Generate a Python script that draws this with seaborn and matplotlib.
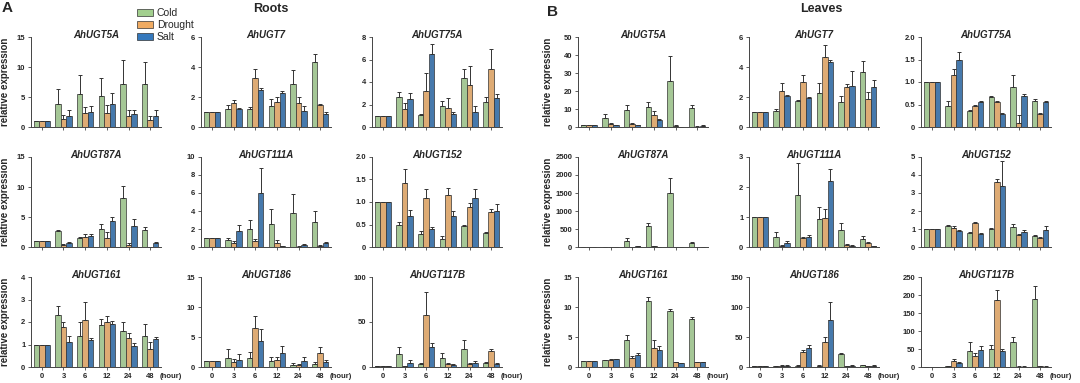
import numpy as np
import pandas as pd
import seaborn as sns
import matplotlib.pyplot as plt
from matplotlib.patches import Patch

times = ["0", "3", "6", "12", "24", "48"]
stresses = ["Cold", "Drought", "Salt"]
colors = ["#a2cf8e", "#f0ab62", "#3579bd"]

# ---- Roots (A) : rows are Cold / Drought / Salt, columns are the time points
r_5a = [[1, 3.8, 5.5, 5.1, 7.1, 7.1], [1, 1.3, 2.4, 2.4, 1.8, 1.1], [1, 1.8, 2.5, 3.9, 2.1, 1.9]]
r_5a_err = [[0, 2.5, 3.2, 3.0, 4.1, 3.7], [0, 0.7, 1.0, 1.3, 1.0, 0.7], [0, 1.0, 1.0, 1.7, 0.8, 0.9]]
r_7 = [[1, 1.2, 1.2, 1.4, 2.9, 4.35], [1, 1.6, 3.3, 1.7, 1.6, 1.5], [1, 1.2, 2.5, 2.3, 1.1, 0.9]]
r_7_err = [[0, 0.25, 0.15, 0.45, 0.9, 0.55], [0, 0.2, 0.6, 0.3, 0.4, 0.05], [0, 0.1, 0.1, 0.1, 0.3, 0.1]]
r_75a = [[1, 2.7, 1.05, 1.9, 4.35, 2.25], [1, 1.6, 3.2, 1.7, 3.7, 5.2], [1, 2.5, 6.5, 1.15, 1.3, 2.6]]
r_75a_err = [[0, 0.4, 0.15, 0.4, 0.8, 0.45], [0, 0.5, 1.6, 0.9, 1.7, 1.7], [0, 0.5, 0.9, 0.2, 0.6, 0.3]]
r_87a = [[1, 2.7, 1.5, 3.0, 8.2, 2.9], [1, 0.35, 1.6, 1.5, 0.3, 0.05], [1, 0.7, 1.8, 4.3, 3.5, 0.65]]
r_87a_err = [[0, 0.2, 0.1, 0.9, 2.0, 0.5], [0, 0.1, 0.6, 1.0, 0.3, 0], [0, 0.2, 0.4, 0.75, 1.2, 0.15]]
r_111a = [[1, 0.75, 2.0, 2.55, 3.75, 2.75], [1, 0.5, 0.7, 0.5, 0.02, 0.15], [1, 1.8, 6.0, 0.1, 0.25, 0.4]]
r_111a_err = [[0, 0.3, 1.0, 1.65, 2.15, 1.2], [0, 0.2, 0.2, 0.3, 0.1, 0.05], [0, 0.65, 2.8, 0, 0.1, 0.15]]
r_152 = [[1, 0.5, 0.28, 0.18, 0.47, 0.31], [1, 1.43, 1.08, 1.16, 0.9, 0.77], [1, 0.7, 0.4, 0.68, 1.08, 0.81]]
r_152_err = [[0, 0.05, 0.07, 0.07, 0.02, 0.03], [0, 0.3, 0.2, 0.15, 0.07, 0.07], [0, 0.13, 0.05, 0.13, 0.2, 0.15]]
r_161 = [[1, 2.3, 1.4, 1.85, 1.6, 1.4], [1, 1.8, 2.1, 2.0, 1.3, 0.8], [1, 1.1, 1.2, 1.9, 0.95, 1.25]]
r_161_err = [[0, 0.4, 0.6, 0.3, 0.4, 0.5], [0, 0.2, 0.8, 0.25, 0.2, 0.3], [0, 0.3, 0.1, 0.15, 0.1, 0.1]]
r_186 = [[1, 1.5, 1.5, 1.0, 0.4, 0.5], [1, 0.9, 6.5, 1.2, 0.3, 2.3], [1, 1.2, 4.3, 2.3, 1.0, 0.8]]
r_186_err = [[0, 1.5, 1.0, 0.7, 0.3, 0.3], [0, 0.5, 2.0, 0.5, 0.2, 1.0], [0, 1.0, 2.0, 1.2, 0.6, 0.4]]
r_117b = [[1, 15, 3, 10, 20, 4], [1, 1, 58, 3, 3, 18], [1, 5, 22, 2, 5, 3]]
r_117b_err = [[0, 7, 1, 6, 10, 2], [0, 0.5, 25, 1, 1, 2], [0, 3, 5, 1, 2, 1]]

# ---- Leaves (B)
l_5a = [[1, 5, 9.2, 11, 25.5, 10.5], [1, 1.5, 1.5, 6.5, 0.5, 0.2], [1, 1.0, 1.0, 3.8, 0.2, 0.6]]
l_5a_err = [[0, 2, 3.2, 2.7, 14, 1.9], [0, 0.5, 0.7, 2.6, 0.5, 0.2], [0, 0.3, 0.3, 0.5, 0, 0.3]]
l_7 = [[1, 1.1, 1.75, 2.25, 1.65, 3.7], [1, 2.4, 3.0, 4.65, 2.65, 1.85], [1, 2.05, 1.95, 4.35, 2.75, 2.65]]
l_7_err = [[0, 0.1, 0.05, 0.7, 0.4, 0.7], [0, 0.55, 0.5, 0.8, 0.2, 0.5], [0, 0.1, 0.05, 0.1, 1.0, 0.5]]
l_75a = [[1, 0.47, 0.35, 0.66, 0.9, 0.57], [1, 1.15, 0.46, 0.55, 0.1, 0.28], [1, 1.48, 0.56, 0.3, 0.69, 0.55]]
l_75a_err = [[0, 0.1, 0.02, 0.04, 0.25, 0.05], [0, 0.15, 0.03, 0.03, 0.17, 0.03], [0, 0.18, 0.02, 0.02, 0.05, 0.03]]
l_87a = [[1, 2, 170, 580, 1500, 110], [1, 1, 2, 20, 3, 1], [1, 10, 20, 5, 2, 1]]
l_87a_err = [[0, 1, 90, 100, 415, 20], [0, 0, 1, 5, 1, 0], [0, 3, 5, 2, 1, 0]]
l_111a = [[1, 0.35, 1.75, 0.92, 0.57, 0.27], [1, 0.03, 0.3, 0.97, 0.08, 0.15], [1, 0.15, 0.35, 2.2, 0.05, 0.02]]
l_111a_err = [[0, 0.15, 1.05, 0.4, 0.22, 0.1], [0, 0.05, 0.05, 0.3, 0.02, 0.02], [0, 0.05, 0.05, 0.4, 0.01, 0]]
l_152 = [[1, 1.15, 0.8, 1.02, 1.1, 0.62], [1, 1.05, 1.35, 3.6, 0.68, 0.52], [1, 0.88, 0.75, 3.4, 0.85, 0.95]]
l_152_err = [[0, 0.05, 0.05, 0.03, 0.2, 0.02], [0, 0.1, 0.02, 0.2, 0.03, 0.05], [0, 0.07, 0.05, 1.35, 0.08, 0.2]]
l_161 = [[1, 1.1, 4.5, 11, 9.3, 8], [1, 1.2, 1.5, 3.2, 0.8, 0.8], [1, 1.3, 2.0, 2.8, 0.6, 0.8]]
l_161_err = [[0, 0.1, 0.8, 0.7, 0.3, 0.4], [0, 0.1, 0.3, 1.3, 0.1, 0.1], [0, 0.1, 0.3, 0.7, 0.1, 0.1]]
l_186 = [[1, 1, 2, 2, 22, 3], [1, 2, 25, 42, 1, 1], [1, 2, 32, 78, 2, 2]]
l_186_err = [[0, 0.5, 1, 1, 2, 1], [0, 1, 3, 8, 0.5, 0.5], [0, 1, 4, 30, 1, 1]]
l_117b = [[1, 2, 45, 50, 70, 190], [1, 18, 30, 185, 1, 2], [1, 12, 48, 45, 1, 1]]
l_117b_err = [[0, 1, 25, 10, 12, 35], [0, 4, 10, 30, 0.5, 1], [0, 3, 10, 5, 0.5, 0.5]]

roots = [
    ("AhUGT5A", r_5a, r_5a_err, [0, 5, 10, 15]),
    ("AhUGT7", r_7, r_7_err, [0, 2, 4, 6]),
    ("AhUGT75A", r_75a, r_75a_err, [0, 2, 4, 6, 8]),
    ("AhUGT87A", r_87a, r_87a_err, [0, 5, 10, 15]),
    ("AhUGT111A", r_111a, r_111a_err, [0, 2, 4, 6, 8, 10]),
    ("AhUGT152", r_152, r_152_err, [0, 0.5, 1.0, 1.5, 2.0]),
    ("AhUGT161", r_161, r_161_err, [0, 1, 2, 3, 4]),
    ("AhUGT186", r_186, r_186_err, [0, 5, 10, 15]),
    ("AhUGT117B", r_117b, r_117b_err, [0, 50, 100]),
]
leaves = [
    ("AhUGT5A", l_5a, l_5a_err, [0, 10, 20, 30, 40, 50]),
    ("AhUGT7", l_7, l_7_err, [0, 2, 4, 6]),
    ("AhUGT75A", l_75a, l_75a_err, [0, 0.5, 1.0, 1.5, 2.0]),
    ("AhUGT87A", l_87a, l_87a_err, [0, 500, 1000, 1500, 2000, 2500]),
    ("AhUGT111A", l_111a, l_111a_err, [0, 1, 2, 3]),
    ("AhUGT152", l_152, l_152_err, [0, 1, 2, 3, 4, 5]),
    ("AhUGT161", l_161, l_161_err, [0, 5, 10, 15]),
    ("AhUGT186", l_186, l_186_err, [0, 50, 100, 150]),
    ("AhUGT117B", l_117b, l_117b_err, [0, 50, 100, 150, 200, 250]),
]

sns.set_style("ticks")
plt.rcParams["font.family"] = ["Liberation Sans", "DejaVu Sans"]

W, H = 1080, 383
fig = plt.figure(figsize=(W / 100, H / 100), dpi=100)


def tick_text(t):
    if t == 0:
        return "0"
    if isinstance(t, float):
        return f"{t:.1f}"
    return str(t)


def draw(ax, title, vals, errs, yticks, bottom, ylab_x):
    df = pd.DataFrame({
        "time": np.tile(times, 3),
        "stress": np.repeat(stresses, len(times)),
        "value": np.concatenate(vals),
    })
    sns.barplot(data=df, x="time", y="value", hue="stress", order=times,
                hue_order=stresses, palette=colors, errorbar=None, width=0.75,
                edgecolor="#333333", linewidth=0.5, legend=False, ax=ax)
    # upward-only error bars, placed on the bars seaborn drew
    for cont, e in zip(ax.containers, errs):
        xs = [b.get_x() + b.get_width() / 2 for b in cont]
        ys = [b.get_height() for b in cont]
        ax.errorbar(xs, ys, yerr=[np.zeros(len(e)), e], fmt="none",
                    ecolor="#333333", elinewidth=0.7, capsize=1.2,
                    capthick=0.7, clip_on=False)
    ax.set_xlim(-0.5, 5.5)
    ax.set_ylim(0, yticks[-1])
    ax.set_yticks(yticks)
    ax.set_yticklabels([tick_text(t) for t in yticks], fontweight="bold")
    ax.set_xlabel("")
    ax.set_ylabel("")
    sns.despine(ax=ax)
    for s in ("left", "bottom"):
        ax.spines[s].set_color("#444444")
        ax.spines[s].set_linewidth(0.7)
    ax.tick_params(length=2.5, width=0.6, color="#444444", labelsize=5.5, pad=1.5)
    if bottom:
        ax.set_xticklabels(times, fontweight="bold")
        ax.annotate("(hour)", xy=(5.95, 0), xycoords=("data", "axes fraction"),
                    xytext=(0, -4.3), textcoords="offset points", ha="center",
                    va="top", fontsize=5.5, fontweight="bold", annotation_clip=False)
    else:
        ax.set_xticklabels([])
    ax.text(0.5, 1.02, title, transform=ax.transAxes, ha="center", va="center",
            fontsize=7, fontweight="bold", fontstyle="italic")
    if ylab_x is not None:
        ax.set_ylabel("relative expression", fontsize=7, fontweight="bold")
        ax.yaxis.set_label_coords(ylab_x, 0.5)


lefts = [[31, 201, 372], [578, 749, 921]]
tops = [37, 157, 277]
aw, ah = 130, 90
for p, genes in enumerate([roots, leaves]):
    for i, (title, vals, errs, yt) in enumerate(genes):
        r, c = divmod(i, 3)
        x0 = lefts[p][c]
        ax = fig.add_axes([x0 / W, 1 - (tops[r] + ah) / H, aw / W, ah / H])
        ylx = (-0.16 if p == 0 else -0.19) if c == 0 else None
        draw(ax, title, vals, errs, yt, r == 2, ylx)

fig.text(7 / W, 1 - 8 / H, "A", fontsize=11, fontweight="bold", ha="center", va="center")
fig.text(553 / W, 1 - 12 / H, "B", fontsize=11, fontweight="bold", ha="center", va="center")
fig.text(271 / W, 1 - 9 / H, "Roots", fontsize=9, fontweight="bold", ha="center", va="center")
fig.text(821 / W, 1 - 9 / H, "Leaves", fontsize=9, fontweight="bold", ha="center", va="center")

handles = [Patch(facecolor=c, edgecolor="#333333", linewidth=0.5, label=s)
           for c, s in zip(colors, stresses)]
fig.legend(handles=handles, loc="upper left", bbox_to_anchor=(137 / W, 1 - 8 / H),
           frameon=False, fontsize=7.5, handlelength=1.5, handleheight=0.75,
           labelspacing=0.2, handletextpad=0.4, borderpad=0, borderaxespad=0)

fig.savefig("out.png", dpi=100)
